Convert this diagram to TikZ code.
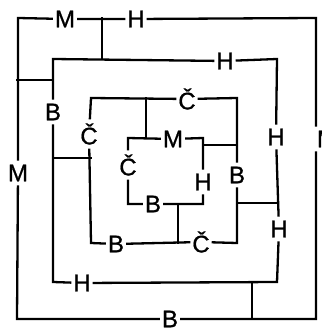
\documentclass[tikz,border=0pt]{standalone}
\usepackage{fontspec}
\setmainfont{Liberation Sans}
\newfontfamily\lblfont[FakeBold=0.8]{Liberation Sans}
\usetikzlibrary{positioning}
\tikzset{
  wall/.style={line width=2.3pt,line cap=rect,draw=black},
  lbl/.style={font=\lblfont\fontsize{24}{24}\selectfont,inner xsep=3pt,inner ysep=5pt},
}
\begin{document}
\begin{tikzpicture}[x=1pt,y=-1pt]
    \useasboundingbox (0,0) rectangle (321,331);
    % outer ring
    \coordinate (c1tl) at (17,18);
    \coordinate (c1tr) at (316,18);
    \coordinate (c1br) at (316,319);
    \coordinate (c1bl) at (17,319);
    \node[lbl] (m1t) at (65,19) {M};
    \node[lbl] (h1t) at (136,19) {H};
    \node[lbl] (m1l) at (18,173) {M};
    \node[lbl] (m1r) at (327,139) {M};
    \node[lbl,inner ysep=1pt] (b1b) at (170,319) {B};
    % second ring
    \coordinate (c2tl) at (53,59);
    \coordinate (c2tr) at (277,59);
    \coordinate (c2br) at (277,282);
    \coordinate (c2bl) at (53,282);
    \node[lbl] (h2t) at (225,61) {H};
    \node[lbl] (b2l) at (53,112) {B};
    \node[lbl] (h2r) at (276,137) {H};
    \node[lbl] (h2s) at (279,229) {H};
    \node[lbl] (h2b) at (82,283) {H};
    % third ring
    \coordinate (c3tl) at (91,98);
    \coordinate (c3tr) at (237,98);
    \coordinate (c3br) at (237,243);
    \coordinate (c3bl) at (91,243);
    \node[lbl] (cz3l) at (89,134) {Č};
    \node[lbl] (cz3t) at (187,99) {Č};
    \node[lbl] (b3r) at (237,175) {B};
    \node[lbl] (cz3b) at (201,242) {Č};
    \node[lbl] (b3b) at (116,244) {B};
    % inner ring
    \coordinate (c4tl) at (128,138);
    \coordinate (c4tr) at (203,138);
    \coordinate (c4br) at (203,204);
    \coordinate (c4bl) at (128,204);
    \node[lbl] (cz4l) at (128,165) {Č};
    \node[lbl] (m4t) at (173,139) {M};
    \node[lbl] (h4r) at (203,182) {H};
    \node[lbl] (b4b) at (153,204) {B};
    % links between rings
    \coordinate (t1) at (102,18);
    \coordinate (t2) at (17,80);
    \coordinate (t3) at (252,319);
    \coordinate (t4) at (53,158);
    \coordinate (t5) at (277,203);
    \coordinate (t6) at (146,98);
    \coordinate (t7) at (237,145);
    \coordinate (t8) at (178,243);

    \draw[wall] (m1l) -- (m1l |- c1tl) -- (m1t) -- (h1t) -- (c1tr) -- (c1tr |- m1r.north);
    \draw[wall] (c1tr |- m1r.south) -- (c1br) -- (b1b) -- (c1bl) -- (m1l);
    \draw[wall] (b2l) -- (c2tl) -- (h2t) -- (c2tr) -- (h2r) -- (h2s) -- (c2br) -- (h2b) -- (c2bl) -- (b2l);
    \draw[wall] (cz3l) -- (c3tl) -- (cz3t) -- (c3tr) -- (b3r) -- (c3br) -- (cz3b) -- (b3b) -- (c3bl) -- (cz3l);
    \draw[wall] (cz4l) -- (c4tl) -- (m4t) -- (c4tr) -- (h4r) -- (c4br) -- (b4b) -- (c4bl) -- (cz4l);
    \draw[wall] (t1) -- (t1 |- c2tl);
    \draw[wall] (t2) -- (t2 -| c2tl);
    \draw[wall] (t3) -- (t3 |- c2br);
    \draw[wall] (t4) -- (t4 -| c3tl);
    \draw[wall] (t5) -- (t5 -| c3tr);
    \draw[wall] (t6) -- (t6 |- c4tl);
    \draw[wall] (t7) -- (t7 -| c4tr);
    \draw[wall] (t8) -- (t8 |- c4bl);
  \end{tikzpicture}
\end{document}
